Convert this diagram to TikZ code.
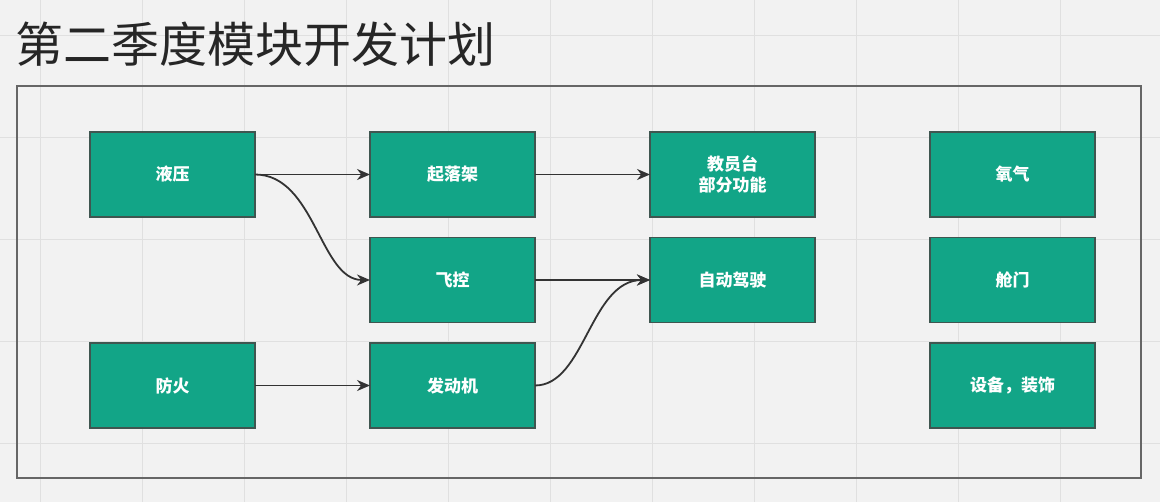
\documentclass[tikz,border=0pt]{standalone}
\usepackage{fontspec}
\newfontfamily\cjk{Noto Sans CJK SC}
\usetikzlibrary{positioning, arrows.meta}
\definecolor{tealbox}{HTML}{12A587}
\definecolor{edgebox}{HTML}{3F5650}
\definecolor{bg}{HTML}{F2F2F2}
\definecolor{gridc}{HTML}{E0E0E0}

\begin{document}
\begin{tikzpicture}[x=1pt, y=-1pt,
    mod/.style={draw=edgebox, line width=1.8pt, fill=tealbox, minimum width=165pt, minimum height=85pt, inner sep=0pt, outer sep=0, text=white, font=\cjk\bfseries\fontsize{17}{21}\selectfont, align=center},
    link/.style={draw=black!80, line width=1.8pt, -{Stealth[length=13pt, width=11pt]}}]
      
      \fill[bg] (0,0) rectangle (1160,502);
      \useasboundingbox (0,0) rectangle (1160,502);
      \foreach \gx in {40,142,...,1160} \draw[gridc, line width=1pt] (\gx,0) -- (\gx,502);
      \foreach \gy in {36,138,...,502} \draw[gridc, line width=1pt] (0,\gy) -- (1160,\gy);
      
      \node[anchor=west, font=\cjk\fontsize{48}{54}\selectfont, text=black!85] (title) at (12,44) {第二季度模块开发计划};
      \draw[black!60, line width=2.5pt] (17,86) rectangle (1141,478);
      
      \node[mod] at (172.5,174.5) (hyd) {液压};
      \node[mod] at (172.5,385.5) (fire) {防火};
      \node[mod] at (452.5,174.5) (gear) {起落架};
      \node[mod] at (452.5,280) (fcs) {飞控};
      \node[mod] at (452.5,385.5) (eng) {发动机};
      \node[mod] at (732.5,174.5) (ios) {教员台\\部分功能};
      \node[mod] at (732.5,280) (ap) {自动驾驶};
      \node[mod] at (1012.5,174.5) (oxy) {氧气};
      \node[mod] at (1012.5,280) (door) {舱门};
      \node[mod] at (1012.5,385.5) (equip) {设备，装饰};
      
      \draw[link] (hyd.east) -- (gear.west);
      \draw[link] (hyd.east) .. controls +(60,0) and +(-50,0) .. (fcs.west);
      \draw[link] (gear.east) -- (ios.west);
      \draw[link] (fcs.east) -- (ap.west);
      \draw[link] (eng.east) .. controls +(50,0) and +(-60,0) .. (ap.west);
      \draw[link] (fire.east) -- (eng.west);
      
\end{tikzpicture}
\end{document}
